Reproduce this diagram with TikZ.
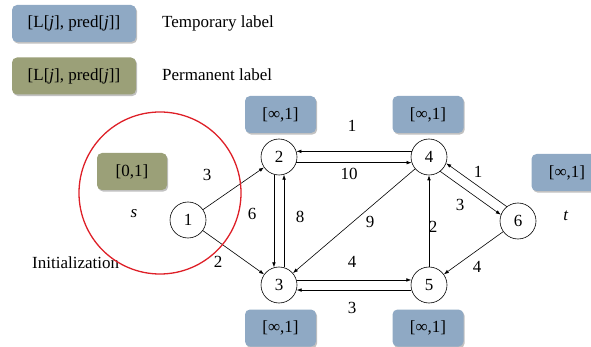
\documentclass[tikz,border=0pt]{standalone}
\usepackage{fontspec}
\setmainfont{Liberation Serif}
\newfontfamily\timesfont{Liberation Serif}
\usetikzlibrary{arrows.meta,shadows}
\definecolor{tempblue}{RGB}{143,169,196}
\definecolor{permgreen}{RGB}{155,160,120}
\definecolor{ringred}{RGB}{222,32,40}
\tikzset{
  every node/.style={font=\timesfont\fontsize{17}{20}\selectfont},
  lbox/.style={rounded corners=5pt, minimum height=37pt, inner sep=0pt,
    drop shadow={shadow xshift=1.2pt, shadow yshift=-1.6pt, opacity=0.35, fill=black!70}},
  tempbox/.style={lbox, fill=tempblue},
  permbox/.style={lbox, fill=permgreen},
  vtx/.style={circle, draw, line width=0.6pt, minimum size=36pt, inner sep=0pt, fill=white},
  arc/.style={line width=0.6pt, -{Latex[length=5pt,width=3.6pt]}},
  txt/.style={inner sep=0pt}
}
\begin{document}
\begin{tikzpicture}[x=1pt,y=-1pt]
\useasboundingbox (0,0) rectangle (591,347);
% legend
\node[tempbox, minimum width=124pt] (legT) at (74,23.5) {[L[\textit{j}], pred[\textit{j}]]};
\node[txt, anchor=west] (legTt) at (162,23) {Temporary label};
\node[permbox, minimum width=124pt] (legP) at (74,76) {[L[\textit{j}], pred[\textit{j}]]};
\node[txt, anchor=west] (legPt) at (162,75) {Permanent label};
% label boxes
\node[tempbox, minimum width=71pt] (b2) at (280.5,114.5) {[∞,1]};
\node[tempbox, minimum width=71pt] (b4) at (428,114.5) {[∞,1]};
\node[tempbox, minimum width=71pt] (b6) at (567,172.5) {[∞,1]};
\node[tempbox, minimum width=71pt] (b3) at (280.5,328) {[∞,1]};
\node[tempbox, minimum width=71pt] (b5) at (428,328) {[∞,1]};
\node[permbox, minimum width=70pt] (b1) at (132,171.5) {[0,1]};
% vertices
\node[vtx] (1) at (188,220) {1};
\node[vtx] (2) at (279,157) {2};
\node[vtx] (4) at (429,157) {4};
\node[vtx] (6) at (518,221) {6};
\node[vtx] (3) at (279,285) {3};
\node[vtx] (5) at (429,285) {5};
% texts
\node[txt] (s) at (134,214) {\textit{s}};
\node[txt] (t) at (566,216) {\textit{t}};
\node[txt, anchor=west] (init) at (32,263) {Initialization};
% arcs
\draw[arc] (1) -- (2);
\draw[arc] (1) -- (3);
\draw[arc] (2.254) -- (3.106);
\draw[arc] (3.74) -- (2.286);
\draw[arc] (4.162) -- (2.18);
\draw[arc] (2.-18) -- (4.198);
\draw[arc] (4) -- (3);
\draw[arc] (5) -- (4);
\draw[arc] (6.128) -- (4.-20);
\draw[arc] (4.-52) -- (6.160);
\draw[arc] (6) -- (5);
\draw[arc] (3.16) -- (5.164);
\draw[arc] (5.196) -- (3.-16);
% arc labels
\node[txt] (l12) at (207,175) {3};
\node[txt] (l13) at (218,262) {2};
\node[txt] (l23) at (252,214) {6};
\node[txt] (l32) at (300,217) {8};
\node[txt] (l43) at (370,222) {9};
\node[txt] (l54) at (433,227) {2};
\node[txt] (l42) at (352,126) {1};
\node[txt] (l24) at (349,174) {10};
\node[txt] (l46) at (460,205) {3};
\node[txt] (l64) at (478,172) {1};
\node[txt] (l65) at (477,267) {4};
\node[txt] (l35) at (352,262) {4};
\node[txt] (l53) at (352,308) {3};
% initialization ring
\node[circle, draw=ringred, line width=1.3pt, minimum size=162pt, inner sep=0pt] (ring) at (160,193) {};
\end{tikzpicture}
\end{document}
